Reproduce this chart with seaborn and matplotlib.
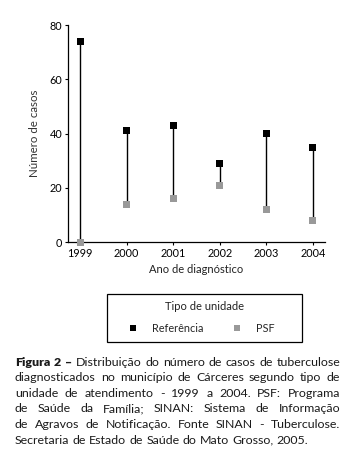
import numpy as np
import pandas as pd
import matplotlib
matplotlib.use("Agg")
import matplotlib.pyplot as plt
from matplotlib.patches import Rectangle
import seaborn as sns

# dados
anos = [1999, 2000, 2001, 2002, 2003, 2004]
referencia = [74, 41, 43, 29, 40, 35]
psf = [0, 14, 16, 21, 12, 8]

sns.set_style("ticks")
plt.rcParams['font.family'] = ['Lato', 'DejaVu Sans']

df = pd.DataFrame({
    'ano': anos * 2,
    'casos': referencia + psf,
    'tipo': ['Referência'] * len(anos) + ['PSF'] * len(anos),
})

W, H = 352, 472
fig = plt.figure(figsize=(3.52, 4.72), dpi=100)
ax = fig.add_axes([0.193, 0.487, 0.730, 0.460])

# linhas verticais ligando PSF e Referência
ax.vlines(anos, psf, referencia, color='black', linewidth=1.0, zorder=1)

sns.scatterplot(data=df, x='ano', y='casos', hue='tipo', style='tipo',
                palette={'Referência': 'black', 'PSF': '#999999'},
                markers={'Referência': 's', 'PSF': 's'},
                s=25, linewidth=0, ax=ax, zorder=3, clip_on=False)

ax.set_xlim(1998.74, 2004.26)
ax.set_ylim(0, 80)
ax.set_xticks(anos)
ax.set_yticks([0, 20, 40, 60, 80])
ax.tick_params(axis='both', labelsize=7.8, length=2.5, width=0.8, pad=1.5, colors='black')
for s in ['left', 'bottom']:
    ax.spines[s].set_linewidth(0.9)
    ax.spines[s].set_color('black')
sns.despine(ax=ax)
ax.set_xlabel('Ano de diagnóstico', fontsize=8, labelpad=4, color='#222222')
ax.set_ylabel('Número de casos', fontsize=8.3, labelpad=7, color='#333333')

# legenda abaixo do gráfico (caixa e título desenhados à parte)
ax.get_legend().remove()
handles, labels = ax.get_legend_handles_labels()
leg = fig.legend(handles, labels, ncol=2, loc='center left',
                 bbox_to_anchor=(121.5 / W, 1 - 328 / H),
                 fontsize=7.8, frameon=False, borderpad=0,
                 columnspacing=2.45, handlelength=1.2, handletextpad=1.15,
                 markerscale=0.85)
fig.patches.append(Rectangle((107 / W, 1 - 342 / H), 195 / W, 48 / H,
                             transform=fig.transFigure, fill=False,
                             edgecolor='black', linewidth=0.9))
fig.text(204.5 / W, 1 - 307 / H, 'Tipo de unidade', ha='center', va='center',
         fontsize=8, color='#222222')

# legenda da figura, texto justificado
linhas = [
    'Figura 2 – Distribuição do número de casos de tuberculose',
    'diagnosticados no município de Cárceres segundo tipo de',
    'unidade de atendimento - 1999 a 2004. PSF: Programa',
    'de Saúde da Família; SINAN: Sistema de Informação',
    'de Agravos de Notificação. Fonte SINAN - Tuberculose.',
    'Secretaria de Estado de Saúde do Mato Grosso, 2005.',
]
x0, x1 = 15 / W, 340 / W
y_top = 1 - 362 / H
passo = 15.6 / H
fig.canvas.draw()
renderer = fig.canvas.get_renderer()
for i, linha in enumerate(linhas):
    y = y_top - i * passo
    palavras = linha.split(' ')
    textos = []
    for j, p in enumerate(palavras):
        negrito = (i == 0 and j < 3)
        t = fig.text(0, y, p, fontsize=8.9, va='center', ha='left',
                     fontweight='heavy' if negrito else 'normal', color='#1a1a1a')
        textos.append(t)
    larguras = [t.get_window_extent(renderer).width / fig.bbox.width for t in textos]
    if i < len(linhas) - 1:
        gap = (x1 - x0 - sum(larguras)) / (len(palavras) - 1)
    else:
        gap = 3.2 / W
    x = x0
    for t, w in zip(textos, larguras):
        t.set_x(x)
        x += w + gap

fig.savefig('out.png', dpi=100)
